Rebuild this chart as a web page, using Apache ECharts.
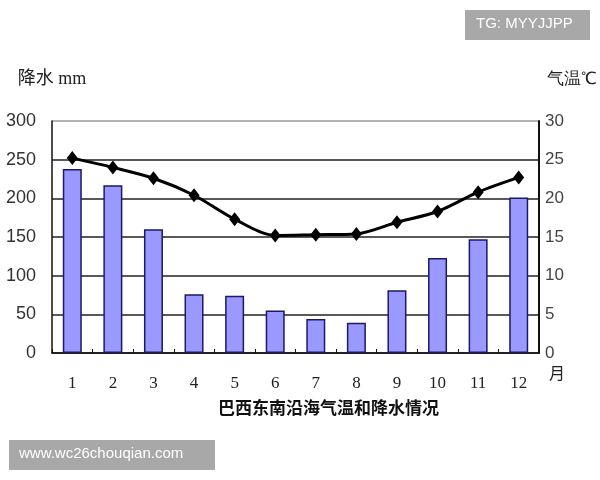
<!DOCTYPE html>
<html>
<head>
<meta charset="utf-8">
<script src="https://cdn.jsdelivr.net/npm/echarts@6/dist/echarts.min.js"></script>
<style>
  html, body { margin: 0; padding: 0; background: #fff; }
  #container { width: 600px; height: 480px; }
</style>
</head>
<body>
<div id="container"></div>
<script>
var months = ["1", "2", "3", "4", "5", "6", "7", "8", "9", "10", "11", "12"];
var rainfall = [238, 217, 160, 76, 74, 55, 44, 39, 81, 123, 147, 201];
var temperature = [25.2, 24.0, 22.6, 20.4, 17.3, 15.2, 15.3, 15.4, 16.9, 18.3, 20.8, 22.7];

var dom = document.getElementById("container");
var myChart = echarts.init(dom);

var serifFont = '"Liberation Serif", "Noto Sans CJK SC", serif';
var sansFont = '"Liberation Sans", Arial, sans-serif';

var option = {
  animation: false,
  title: {
    text: "巴西东南沿海气温和降水情况",
    left: 213,
    top: 394,
    textStyle: {
      fontFamily: '"Noto Sans CJK SC", sans-serif',
      fontSize: 17,
      fontWeight: "bold",
      color: "#111"
    }
  },
  grid: {
    left: 52,
    right: 60,
    top: 121,
    bottom: 127
  },
  xAxis: {
    type: "category",
    data: months,
    name: "月",
    nameGap: 10,
    nameTextStyle: {
      fontFamily: serifFont,
      fontSize: 16,
      color: "#222",
      verticalAlign: "top",
      padding: [14, 0, 0, 0]
    },
    axisLine: { lineStyle: { color: "#111", width: 1.5 } },
    axisTick: { show: true, inside: true, length: 4, lineStyle: { color: "#111" } },
    axisLabel: {
      margin: 22,
      fontFamily: serifFont,
      fontSize: 17,
      color: "#222"
    }
  },
  yAxis: [
    {
      type: "value",
      min: 0,
      max: 300,
      interval: 50,
      name: "降水 mm",
      nameGap: 33,
      nameTextStyle: {
        fontFamily: serifFont,
        fontSize: 18,
        color: "#222"
      },
      axisLine: { show: true, lineStyle: { color: "#111", width: 1.5 } },
      axisTick: { show: false },
      axisLabel: {
        margin: 16,
        fontFamily: sansFont,
        fontSize: 18,
        color: "#333"
      },
      splitLine: {
        show: true,
        lineStyle: {
          color: ["#222", "#222", "#222", "#222", "#222", "#222", "#999"],
          width: 1.5
        }
      }
    },
    {
      type: "value",
      min: 0,
      max: 30,
      interval: 5,
      name: "气温℃",
      nameGap: 33,
      nameTextStyle: {
        fontFamily: sansFont,
        fontSize: 17,
        color: "#222",
        align: "left",
        padding: [0, 0, 0, 8]
      },
      axisLine: { show: true, lineStyle: { color: "#111", width: 2 } },
      axisTick: { show: false },
      axisLabel: {
        margin: 6,
        fontFamily: sansFont,
        fontSize: 17,
        color: "#444"
      },
      splitLine: { show: false }
    }
  ],
  series: [
    {
      name: "降水",
      type: "bar",
      yAxisIndex: 0,
      data: rainfall,
      barWidth: 19,
      itemStyle: {
        color: "#9999ff",
        borderColor: "#1a1a66",
        borderWidth: 1.5
      }
    },
    {
      name: "气温",
      type: "line",
      yAxisIndex: 1,
      data: temperature,
      smooth: 0.3,
      symbol: "diamond",
      symbolSize: [11, 14],
      lineStyle: { color: "#000", width: 3 },
      itemStyle: { color: "#000" }
    }
  ],
  graphic: [
    {
      type: "rect",
      left: 465,
      top: 10,
      shape: { width: 125, height: 30 },
      style: { fill: "#a8a8a8" }
    },
    {
      type: "text",
      left: 476,
      top: 16,
      style: { text: "TG: MYYJJPP", fill: "#fff", font: '15px "Liberation Sans", Arial' }
    },
    {
      type: "rect",
      left: 9,
      top: 440,
      shape: { width: 206, height: 30 },
      style: { fill: "#a8a8a8" }
    },
    {
      type: "text",
      left: 19,
      top: 446,
      style: { text: "www.wc26chouqian.com", fill: "#fff", font: '15px "Liberation Sans", Arial' }
    }
  ]
};

if (option && typeof option === "object") {
  myChart.setOption(option, true);
}
</script>
</body>
</html>
